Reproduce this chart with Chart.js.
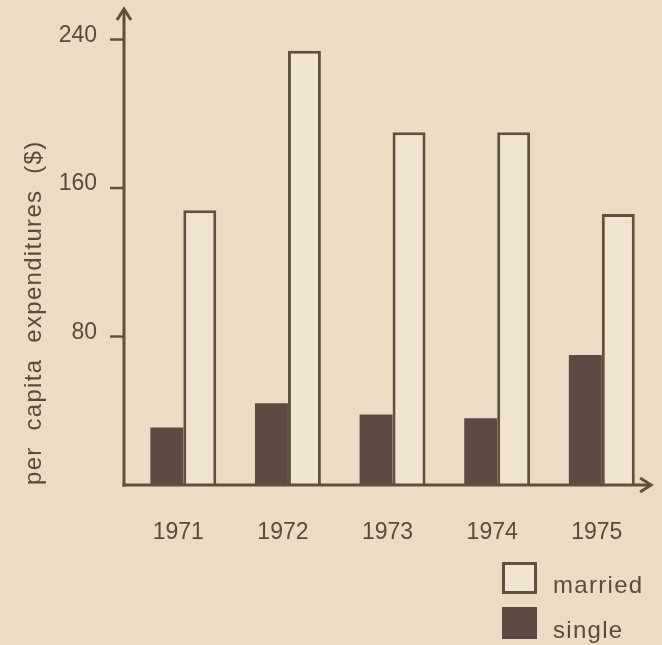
<!DOCTYPE html>
<html>
<head>
<meta charset="utf-8">
<script src="https://cdn.jsdelivr.net/npm/chart.js@4.4.1/dist/chart.umd.min.js"></script>
<style>
  html, body { margin: 0; padding: 0; background: #ebdcc5; }
  #wrap { position: relative; width: 662px; height: 645px; }
  #legend { position: absolute; left: 502px; top: 562px; font-family: "Liberation Sans", Arial, sans-serif;
            font-size: 24px; letter-spacing: 1.3px; color: #5c4a41; }
  .item { position: relative; height: 45px; }
  .box { position: absolute; left: 0; top: 0; width: 35px; height: 32px; box-sizing: border-box; }
  .txt { position: absolute; left: 51px; top: 9px; line-height: 28px; white-space: nowrap; }
</style>
</head>
<body>
<div id="wrap">
  <canvas id="chart" width="662" height="645"></canvas>
  <div id="legend"></div>
</div>
<script>
// data
const years = ['1971', '1972', '1973', '1974', '1975'];
const singleValues = [31, 44, 38, 36, 70];
const marriedValues = [148, 234, 190, 190, 146];
const yTickValues = [80, 160, 240];

const INK = '#62503f';
const TEXT = '#5c4a41';
const DARK = '#5d4a43';
const PAPER = '#f0e3d1';
const FONT = '"Liberation Sans", Arial, sans-serif';

// arrowed axes and the little tick marks, drawn a few px left of the bars
const arrowAxes = {
    id: 'arrowAxes',
    beforeDraw(chart) {
        chart.ctx.letterSpacing = '1.3px'; // loose tracking of the axis title
    },
    beforeDatasetsDraw(chart) {
        chart.ctx.letterSpacing = '0px';
    },
    afterDatasetsDraw(chart) {
        const { ctx, chartArea, scales } = chart;
        const x0 = chartArea.left - 7;
        const yb = chartArea.bottom;
        ctx.save();
        ctx.strokeStyle = INK;
        ctx.lineWidth = 3;
        // y axis + arrow
        ctx.beginPath();
        ctx.moveTo(x0, yb + 1.5);
        ctx.lineTo(x0, chartArea.top + 1);
        ctx.stroke();
        ctx.beginPath();
        ctx.moveTo(x0 - 7, chartArea.top + 12);
        ctx.lineTo(x0, chartArea.top + 1);
        ctx.lineTo(x0 + 7, chartArea.top + 12);
        ctx.stroke();
        // x axis + arrow
        ctx.beginPath();
        ctx.moveTo(x0 - 1.5, yb);
        ctx.lineTo(chartArea.right - 3, yb);
        ctx.stroke();
        ctx.beginPath();
        ctx.moveTo(chartArea.right - 14, yb - 7);
        ctx.lineTo(chartArea.right - 3, yb);
        ctx.lineTo(chartArea.right - 14, yb + 7);
        ctx.stroke();
        // tick marks
        ctx.lineWidth = 2.5;
        scales.y.ticks.forEach(t => {
            const py = scales.y.getPixelForValue(t.value);
            ctx.beginPath();
            ctx.moveTo(x0 - 14, py);
            ctx.lineTo(x0, py);
            ctx.stroke();
        });
        ctx.restore();
    }
};

const chart = new Chart(document.getElementById('chart'), {
    type: 'bar',
    data: {
        labels: years,
        datasets: [{
            label: 'single',
            data: singleValues,
            backgroundColor: DARK,
            borderColor: DARK,
            borderWidth: 0
        }, {
            label: 'married',
            data: marriedValues,
            backgroundColor: PAPER,
            borderColor: INK,
            borderWidth: 3
        }]
    },
    options: {
        responsive: false,
        animation: false,
        events: [],
        categoryPercentage: 0.63,
        barPercentage: 1,
        layout: { padding: { left: 10, right: 6, top: 8, bottom: 0 } },
        plugins: { legend: { display: false }, tooltip: { enabled: false } },
        scales: {
            x: {
                grid: { display: false, drawTicks: false },
                border: { display: false },
                ticks: { color: TEXT, font: { family: FONT, size: 23 }, padding: 34, labelOffset: -5, z: 1 },
                afterFit: s => { s.height = 160; }
            },
            y: {
                min: 0,
                max: 257,
                grid: { display: false, drawTicks: false },
                border: { display: false },
                afterBuildTicks: s => { s.ticks = yTickValues.map(v => ({ value: v })); },
                ticks: { color: TEXT, font: { family: FONT, size: 23 }, padding: 34, labelOffset: -4, z: 1 },
                title: {
                    display: true,
                    text: 'per  capita  expenditures  ($)',
                    align: 'start',
                    color: TEXT,
                    font: { family: FONT, size: 24 },
                    padding: { top: 10, bottom: 0 }
                },
                afterFit: s => {
                    s.width = 121;
                    s.paddingTop = 0;
                    s.paddingBottom = 0;
                }
            }
        }
    },
    plugins: [arrowAxes]
});

// legend: married on top, single below
const legend = document.getElementById('legend');
[1, 0].forEach(i => {
    const ds = chart.data.datasets[i];
    const item = document.createElement('div');
    item.className = 'item';
    const box = document.createElement('div');
    box.className = 'box';
    box.style.background = ds.backgroundColor;
    box.style.border = ds.borderWidth ? ds.borderWidth + 'px solid ' + ds.borderColor : 'none';
    const txt = document.createElement('div');
    txt.className = 'txt';
    txt.textContent = ds.label;
    item.appendChild(box);
    item.appendChild(txt);
    legend.appendChild(item);
});
</script>
</body>
</html>
